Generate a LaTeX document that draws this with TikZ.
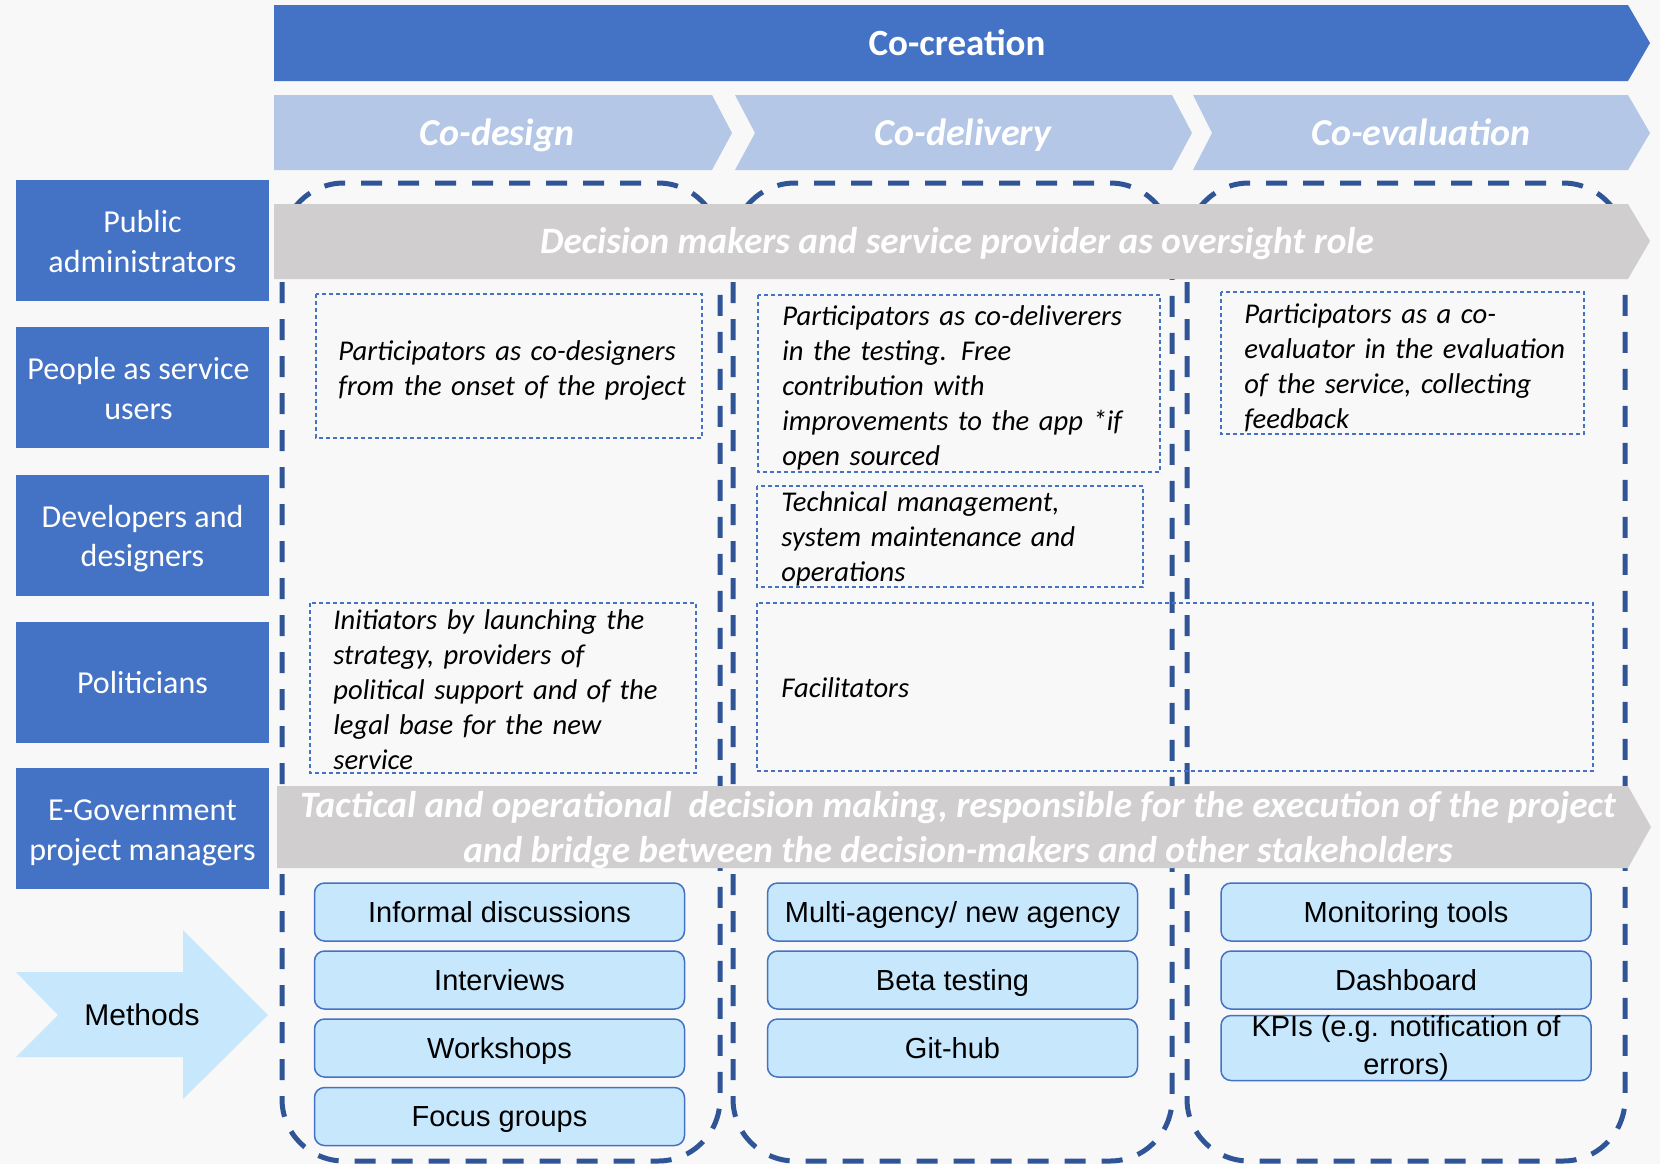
\documentclass[tikz,border=0pt]{standalone}
\usepackage{fontspec}
\setmainfont{Carlito}
\newfontfamily\arialf{Liberation Sans}
\definecolor{bgc}{RGB}{248,248,248}
\definecolor{mainblue}{RGB}{68,114,196}
\definecolor{lightchev}{RGB}{180,199,231}
\definecolor{barg}{RGB}{208,206,206}
\definecolor{darkdash}{RGB}{47,85,151}
\definecolor{methfill}{RGB}{199,231,252}
\begin{document}
\begin{tikzpicture}[x=0.5pt,y=-0.5pt,
  rolebox/.style={fill=mainblue, draw=none, minimum width=126.5pt, minimum height=60.5pt, inner sep=0pt},
  roletext/.style={text=white, font=\fontsize{16}{19.7}\selectfont, align=center, inner sep=0pt, yshift=-2pt},
  methbase/.style={fill=methfill, draw=mainblue, line width=0.75pt, rounded corners=5pt, font=\arialf\fontsize{14.5}{19}\selectfont, align=center, minimum width=185pt, minimum height=29pt, inner sep=0pt},
  methbox/.style={methbase, text height=12pt, text depth=2pt},
  stagebox/.style={draw=darkdash, line width=2.5pt, dash pattern=on 10.5pt off 8pt, rounded corners=31pt},
  dotbox/.style={draw=mainblue, line width=0.7pt, dash pattern=on 2pt off 1.5pt},
  desc/.style={font=\itshape\fontsize{14.3}{17.6}\selectfont, align=left, anchor=base west, inner sep=0pt, text width=230pt},
  chevtext/.style={font=\bfseries\itshape\fontsize{19}{22}\selectfont, text=white, anchor=base},
  bartext/.style={font=\bfseries\itshape\fontsize{18.6}{22.5}\selectfont, text=white, align=center}
]
\useasboundingbox (0,0) rectangle (1660,1164);
\fill[bgc] (0,0) rectangle (1660,1164);

% stage frames
\draw[stagebox] (282,183) rectangle (720,1161);
\draw[stagebox] (733,183) rectangle (1172,1161);
\draw[stagebox] (1187,183) rectangle (1625,1161);

% co-creation bar
\fill[mainblue] (274,5) -- (1628,5) -- (1650,43) -- (1628,81) -- (274,81) -- cycle;
\node[font=\bfseries\fontsize{18.5}{22}\selectfont, text=white, anchor=base] (cocreation) at (957,55) {Co-creation};

% chevrons
\fill[lightchev] (274,95) -- (712,95) -- (732,133) -- (712,170) -- (274,170) -- cycle;
\fill[lightchev] (735,95) -- (1172,95) -- (1192,133) -- (1172,170) -- (735,170) -- (755,133) -- cycle;
\fill[lightchev] (1193,95) -- (1628,95) -- (1650,133) -- (1628,170) -- (1193,170) -- (1212,133) -- cycle;
\node[chevtext] (codesign) at (497,145) {Co-design};
\node[chevtext] (codelivery) at (963,145) {Co-delivery};
\node[chevtext] (coevaluation) at (1421,145) {Co-evaluation};

% gray bars
\fill[barg] (274,204) -- (1628,204) -- (1650,241) -- (1628,279) -- (274,279) -- cycle;
\node[bartext] (oversight) at (957,244) {Decision makers and service provider as oversight role};
\fill[barg] (277,786) -- (1628,786) -- (1651,827) -- (1628,868) -- (277,868) -- cycle;
\node[bartext] (tactical) at (958,830) {Tactical and operational~ decision making, responsible for the execution of the project\\and bridge between the decision-makers and other stakeholders};

% dotted boxes
\draw[dotbox] (316,294) rectangle (702,438);
\draw[dotbox] (758,295) rectangle (1160,472);
\draw[dotbox] (1221,292) rectangle (1584,434);
\draw[dotbox] (757,486) rectangle (1143,587);
\draw[dotbox] (310,603) rectangle (696,773);
\draw[dotbox] (757,603) rectangle (1593,771);

\node[desc] (dA) at (338,360) {Participators as co-designers\\from the onset of the project};
\node[desc] (dB) at (782,325) {Participators as co-deliverers\\in the testing. Free\\contribution with\\improvements to the app *if\\open sourced};
\node[desc] (dC) at (1244,323) {Participators as a co-\\evaluator in the evaluation\\of the service, collecting\\feedback};
\node[desc] (dD) at (781,511) {Technical management,\\system maintenance and\\operations};
\node[desc] (dE) at (333,629) {Initiators by launching the\\strategy, providers of\\political support and of the\\legal base for the new\\service};
\node[desc] (dF) at (781,697) {Facilitators};

% role boxes
\node[rolebox] (pa) at (142.5,240.5) {};
\node[roletext] (paT) at (pa.center) {\strut Public\\\strut administrators};
\node[rolebox] (psu) at (142.5,387.5) {};
\node[roletext, xshift=-2pt] (psuT) at (psu.center) {\strut People as service\\\strut users};
\node[rolebox] (dd) at (142.5,535) {};
\node[roletext] (ddT) at (dd.center) {\strut Developers and\\\strut designers};
\node[rolebox] (pol) at (142.5,682) {};
\node[roletext] (polT) at (pol.center) {\strut Politicians};
\node[rolebox] (egov) at (142.5,828.5) {};
\node[roletext] (egovT) at (egov.center) {\strut E-Government\\\strut project managers};

% methods arrow
\fill[methfill] (16,972) -- (183,972) -- (183,930) -- (268,1015) -- (183,1099) -- (183,1057) -- (16,1057) -- (58,1015) -- cycle;
\node[font=\arialf\fontsize{15}{17}\selectfont] (methods) at (142,1015) {Methods};

% method boxes
\node[methbox] (m11) at (499.5,912) {Informal discussions};
\node[methbox] (m12) at (499.5,980) {Interviews};
\node[methbox] (m13) at (499.5,1048) {Workshops};
\node[methbox] (m14) at (499.5,1116.5) {Focus groups};
\node[methbox] (m21) at (952.5,912) {Multi-agency/ new agency};
\node[methbox] (m22) at (952.5,980) {Beta testing};
\node[methbox] (m23) at (952.5,1048) {Git-hub};
\node[methbox] (m31) at (1406,912) {Monitoring tools};
\node[methbox] (m32) at (1406,980) {Dashboard};
\node[methbase] (m33) at (1406,1048) {KPIs (e.g. notification of\\errors)};
\end{tikzpicture}
\end{document}
